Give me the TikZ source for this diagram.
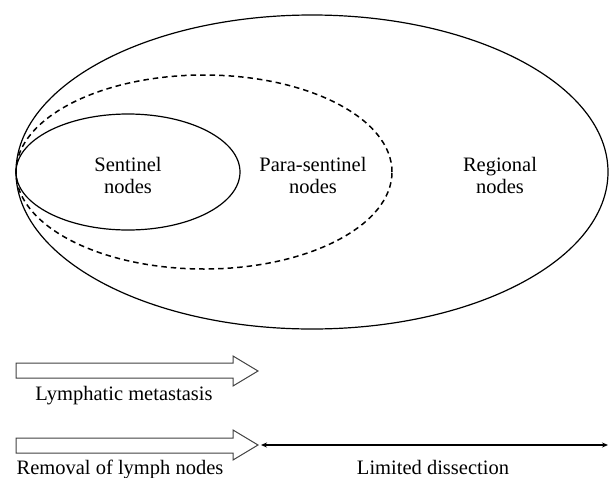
\documentclass[tikz,border=0pt]{standalone}
\usepackage{fontspec}
\setmainfont{Liberation Serif}
\usetikzlibrary{arrows.meta}
\begin{document}
\begin{tikzpicture}[x=1pt,y=1pt,
  lbl/.style={font=\fontsize{20.5}{22}\selectfont, align=center, inner sep=0pt},
  ring/.style={line width=1.2pt},
  blockarrow/.style={line width=1pt, draw=black!75, line join=miter},
]
\useasboundingbox (0,0) rectangle (610,-477);
% ellipses
\draw[ring] (312,-172) ellipse [x radius=296, y radius=157];
\draw[ring, line width=1.5pt, dash pattern=on 5.5pt off 4pt] (204,-172) ellipse [x radius=188, y radius=97];
\draw[ring] (128,-172) ellipse [x radius=112, y radius=58];
% labels
\node[lbl] (sent) at (128,-175) {Sentinel\\nodes};
\node[lbl] (para) at (313,-175) {Para-sentinel\\nodes};
\node[lbl] (reg) at (500,-175) {Regional\\nodes};
% block arrow 1
\draw[blockarrow] (16,-363) -- (233,-363) -- (233,-356) -- (258,-371) -- (233,-386) -- (233,-378) -- (16,-378) -- cycle;
\coordinate (a1tip) at (258,-371);
\node[lbl] (lm) at (124,-396) {Lymphatic metastasis};
% block arrow 2
\draw[blockarrow] (16,-438) -- (233,-438) -- (233,-430) -- (258,-445) -- (233,-460) -- (233,-453) -- (16,-453) -- cycle;
\coordinate (a2tip) at (258,-445);
\node[lbl] (rem) at (120,-469) {Removal of lymph nodes};
% double arrow
\coordinate (dl) at (261,-445);
\coordinate (dr) at (608,-445);
\draw[line width=1.2pt, {Stealth[length=6pt,width=5pt]}-{Stealth[length=6pt,width=5pt]}] (dl) -- (dr);
\node[lbl] (lim) at (433,-467) {Limited dissection};
\end{tikzpicture}
\end{document}
